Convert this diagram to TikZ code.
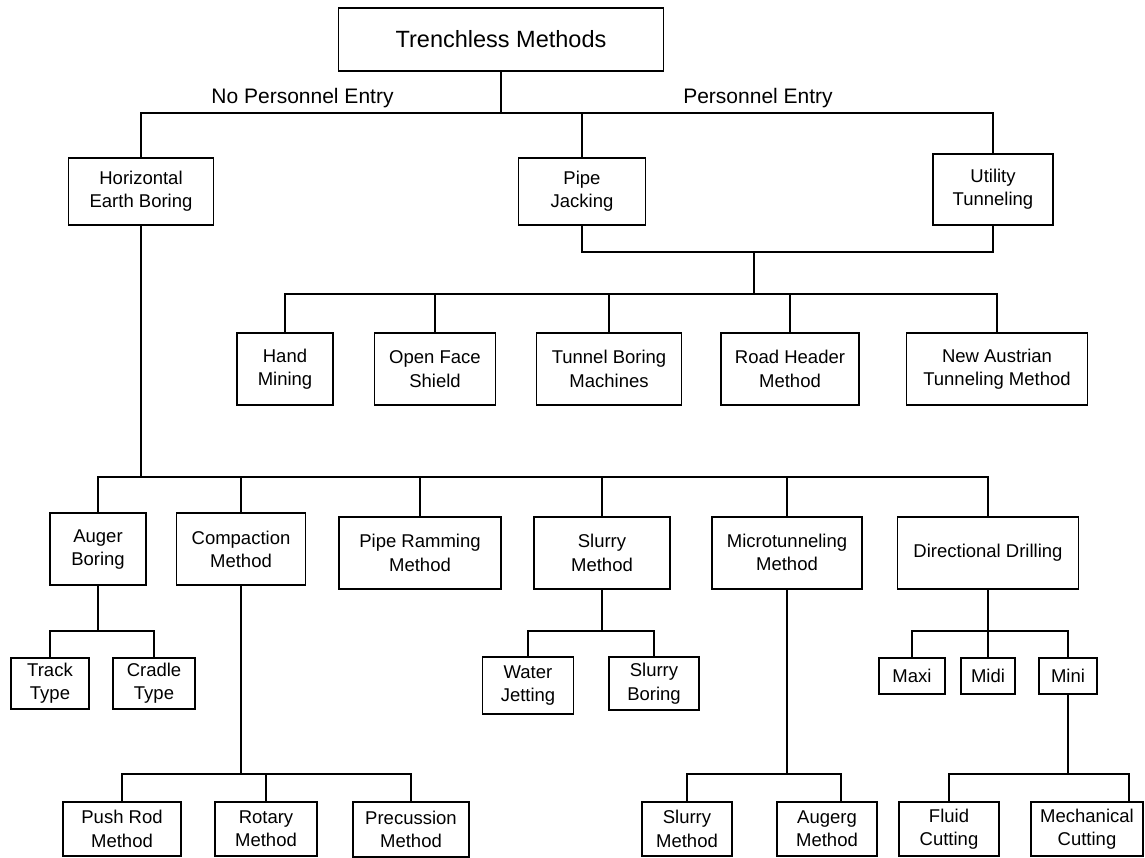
\documentclass[tikz,border=0pt]{standalone}
\usepackage{fontspec}
\setmainfont{Liberation Sans}
\begin{document}
\begin{tikzpicture}[x=1pt,y=-1pt,line width=1.9pt,
		box/.style 2 args={draw,inner sep=0pt,align=center,minimum width=#1,minimum height=#2,font=\fontsize{18.5}{23.3}\selectfont},
		lbl/.style={anchor=base,font=\fontsize{21}{25}\selectfont}]
		\useasboundingbox (0,0) rectangle (1145,858);
		% top
		\node[box={325}{63},font=\fontsize{23.5}{28}\selectfont] (root) at (501,39.5) {Trenchless Methods};
		\node[lbl] (npe) at (302.5,104) {No Personnel Entry};
		\node[lbl] (pe) at (758,104) {Personnel Entry};
		\node[box={145}{67}] (heb) at (141,191.5) {Horizontal\\Earth Boring};
		\node[box={127}{67}] (pj) at (582,191.5) {Pipe\\Jacking};
		\node[box={119.5}{71}] (ut) at (993,189.5) {Utility\\Tunneling};
		% personnel entry methods
		\node[box={96}{72}] (hm) at (285,369) {Hand\\Mining};
		\node[box={121}{72}] (ofs) at (435,369) {Open Face\\Shield};
		\node[box={145}{72}] (tbm) at (609,369) {Tunnel Boring\\Machines};
		\node[box={137.4}{72}] (rh) at (790,369) {Road Header\\Method};
		\node[box={181}{72}] (natm) at (997,369) {New Austrian\\Tunneling Method};
		% horizontal earth boring
		\node[box={96.7}{72}] (auger) at (98,549.3) {Auger\\Boring};
		\node[box={129}{72}] (comp) at (241,549.3) {Compaction\\Method};
		\node[box={162}{72}] (ram) at (420,553) {Pipe Ramming\\Method};
		\node[box={136}{72}] (slurry) at (602,553) {Slurry\\Method};
		\node[box={150}{72}] (micro) at (787,552.7) {Microtunneling\\Method};
		\node[box={181}{72}] (dd) at (988,552.7) {Directional Drilling};
		\node[box={78.7}{51}] (track) at (50,683.2) {Track\\Type};
		\node[box={81.3}{51}] (cradle) at (154,683.2) {Cradle\\Type};
		\node[box={91}{56.4}] (wj) at (528,685.5) {Water\\Jetting};
		\node[box={90.4}{53}] (sb) at (654,683.8) {Slurry\\Boring};
		\node[box={66}{36.3}] (maxi) at (912,675.8) {Maxi};
		\node[box={54.8}{36.3}] (midi) at (988,675.8) {Midi};
		\node[box={58}{36.3}] (mini) at (1068,675.8) {Mini};
		\node[box={118.7}{54.3}] (push) at (122,828.9) {Push Rod\\Method};
		\node[box={102.4}{54.3}] (rot) at (266,828.9) {Rotary\\Method};
		\node[box={116.3}{55.3}] (prec) at (411,829.4) {Precussion\\Method};
		\node[box={90.6}{54.3}] (sm) at (687,828.9) {Slurry\\Method};
		\node[box={99.4}{54.3}] (aug) at (827,828.9) {Augerg\\Method};
		\node[box={99.5}{54.3}] (fluid) at (949,828.9) {Fluid\\Cutting};
		\node[box={111.3}{54.3}] (mech) at (1087,828.9) {Mechanical\\Cutting};
		% buses
		\coordinate (b0) at (501,113);
		\coordinate (b1) at (754,252);
		\coordinate (b2) at (754,294);
		\coordinate (b3) at (141,477);
		\coordinate (b4) at (98,631);
		\coordinate (b5) at (602,631);
		\coordinate (b6) at (988,631);
		\coordinate (b7) at (241,774);
		\coordinate (b8) at (787,774);
		\coordinate (b9) at (1068,774);
		\draw (root) -- (b0);
		\draw (heb.north) |- (b0) -| (ut.north);
		\draw (pj.north) -- (pj.north |- b0);
		\draw (pj.south) |- (b1) -| (ut.south);
		\draw (b1) -- (b2);
		\draw (hm.north) |- (b2) -| (natm.north);
		\foreach \n in {ofs,tbm,rh}
			\draw (\n.north) -- (\n.north |- b2);
		\draw (heb) -- (b3);
		\draw (auger.north) |- (b3) -| (dd.north);
		\foreach \n in {comp,ram,slurry,micro}
			\draw (\n.north) -- (\n.north |- b3);
		\draw (auger) -- (b4);
		\draw (track.north) |- (b4) -| (cradle.north);
		\draw (slurry) -- (b5);
		\draw (wj.north) |- (b5) -| (sb.north);
		\draw (dd) -- (b6);
		\draw (maxi.north) |- (b6) -| (mini.north);
		\draw (midi.north) -- (b6);
		\draw (comp) -- (b7);
		\draw (push.north) |- (b7) -| (prec.north);
		\draw (rot.north) -- (rot.north |- b7);
		\draw (micro) -- (b8);
		\draw (sm.north) |- (b8) -| ([xshift=14]aug.north);
		\draw (mini) -- (b9);
		\draw (fluid.north) |- (b9) -| ([xshift=42]mech.north);
	\end{tikzpicture}
\end{document}
